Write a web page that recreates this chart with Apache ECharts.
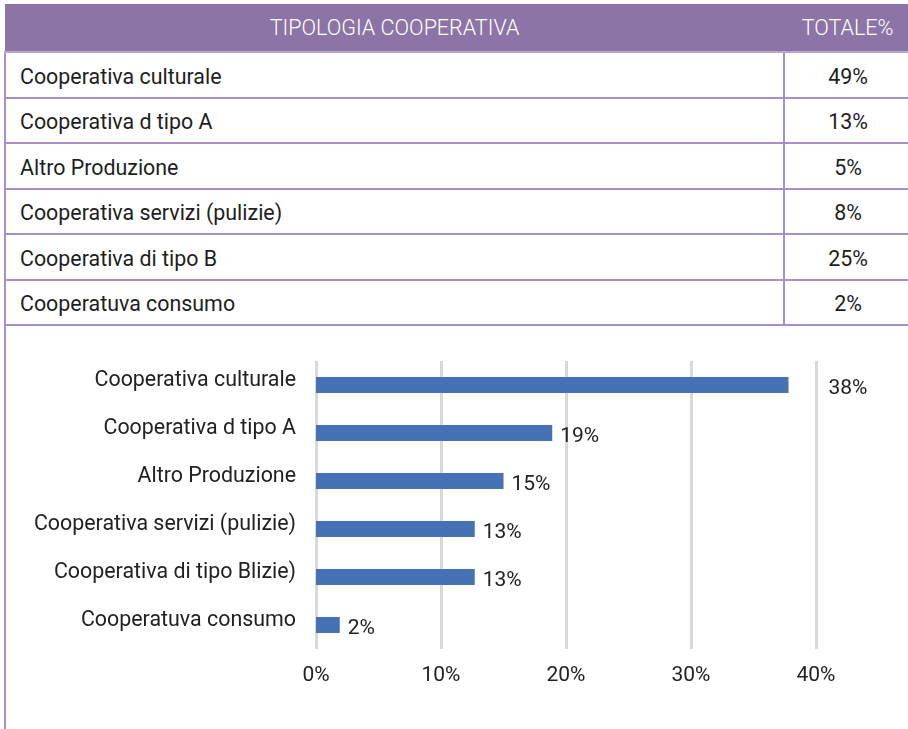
<!DOCTYPE html>
<html>
<head>
<meta charset="utf-8">
<script src="https://cdn.jsdelivr.net/npm/echarts@6/dist/echarts.min.js"></script>
<style>
  html, body { margin: 0; padding: 0; background: #fff; }
  body { width: 908px; height: 729px; position: relative; overflow: hidden; font-family: Roboto, "Noto Sans", sans-serif; }
  #tab { position: absolute; left: 4px; top: 4px; width: 906px; border-collapse: collapse; table-layout: fixed; font-size: 21.4px; color: #1e1e1e; }
  #tab th { background: #8d74a6; color: #fff; font-weight: 300; font-size: 21.5px; height: 47px; padding: 0; border-bottom: 2px solid #b9a6d3; }
  #tab td { height: 40.5px; padding: 3px 0 0 0; border: 2px solid #a88fc6; border-top: none; }
  #tab td.name { padding-left: 14px; border-left: 2px solid #a88fc6; }
  #tab td.val { text-align: center; border-right: none; }
  #line { position: absolute; left: 4px; top: 325px; width: 2px; height: 404px; background: #a88fc6; }
  #main { position: absolute; left: 0; top: 327px; width: 908px; height: 402px; }
</style>
</head>
<body>
<table id="tab">
  <colgroup><col style="width:779px"><col style="width:127px"></colgroup>
  <thead><tr><th id="h1"></th><th id="h2"></th></tr></thead>
  <tbody id="rows"></tbody>
</table>
<div id="line"></div>
<div id="main"></div>
<script>
// tabella
var headers = ['TIPOLOGIA COOPERATIVA', 'TOTALE%'];
var tableNames = ['Cooperativa culturale', 'Cooperativa d tipo A', 'Altro Produzione', 'Cooperativa servizi (pulizie)', 'Cooperativa di tipo B', 'Cooperatuva consumo'];
var tableValues = [49, 13, 5, 8, 25, 2];

// grafico
var categories = ['Cooperativa culturale', 'Cooperativa d tipo A', 'Altro Produzione', 'Cooperativa servizi (pulizie)', 'Cooperativa di tipo Blizie)', 'Cooperatuva consumo'];
var values = [37.8, 18.9, 15, 12.7, 12.7, 1.9];

document.getElementById('h1').textContent = headers[0];
document.getElementById('h2').textContent = headers[1];
var tbody = document.getElementById('rows');
tableNames.forEach(function (n, i) {
    var tr = document.createElement('tr');
    var a = document.createElement('td');
    a.className = 'name';
    a.textContent = n;
    var b = document.createElement('td');
    b.className = 'val';
    b.textContent = tableValues[i] + '%';
    tr.appendChild(a);
    tr.appendChild(b);
    tbody.appendChild(tr);
});

var myChart = echarts.init(document.getElementById('main'));
var option = {
    animation: false,
    grid: { left: 316, top: 34, width: 500, height: 288, containLabel: false },
    xAxis: {
        type: 'value',
        min: 0,
        max: 40,
        interval: 10,
        axisLine: { show: false },
        axisTick: { show: false },
        axisLabel: { formatter: '{value}%', fontSize: 21, color: '#222', margin: 16, fontFamily: 'Roboto' },
        splitLine: { lineStyle: { color: '#d9d9d9', width: 3 } }
    },
    yAxis: {
        type: 'category',
        inverse: true,
        data: categories,
        axisLine: { show: false },
        axisTick: { show: false },
        axisLabel: { fontSize: 21.4, color: '#222', margin: 20, verticalAlign: 'bottom', lineHeight: 8, fontFamily: 'Roboto' }
    },
    series: [{
        type: 'bar',
        barWidth: 16,
        itemStyle: { color: '#4571b5' },
        label: {
            show: true,
            position: 'right',
            distance: 8,
            offset: [0, 4],
            fontSize: 21,
            color: '#222',
            fontFamily: 'Roboto',
            formatter: function (p) { return Math.round(p.value) + '%'; }
        },
        data: values.map(function (v, i) {
            return i === 0 ? { value: v, label: { distance: 40 } } : v;
        })
    }]
};
myChart.setOption(option);
</script>
</body>
</html>
